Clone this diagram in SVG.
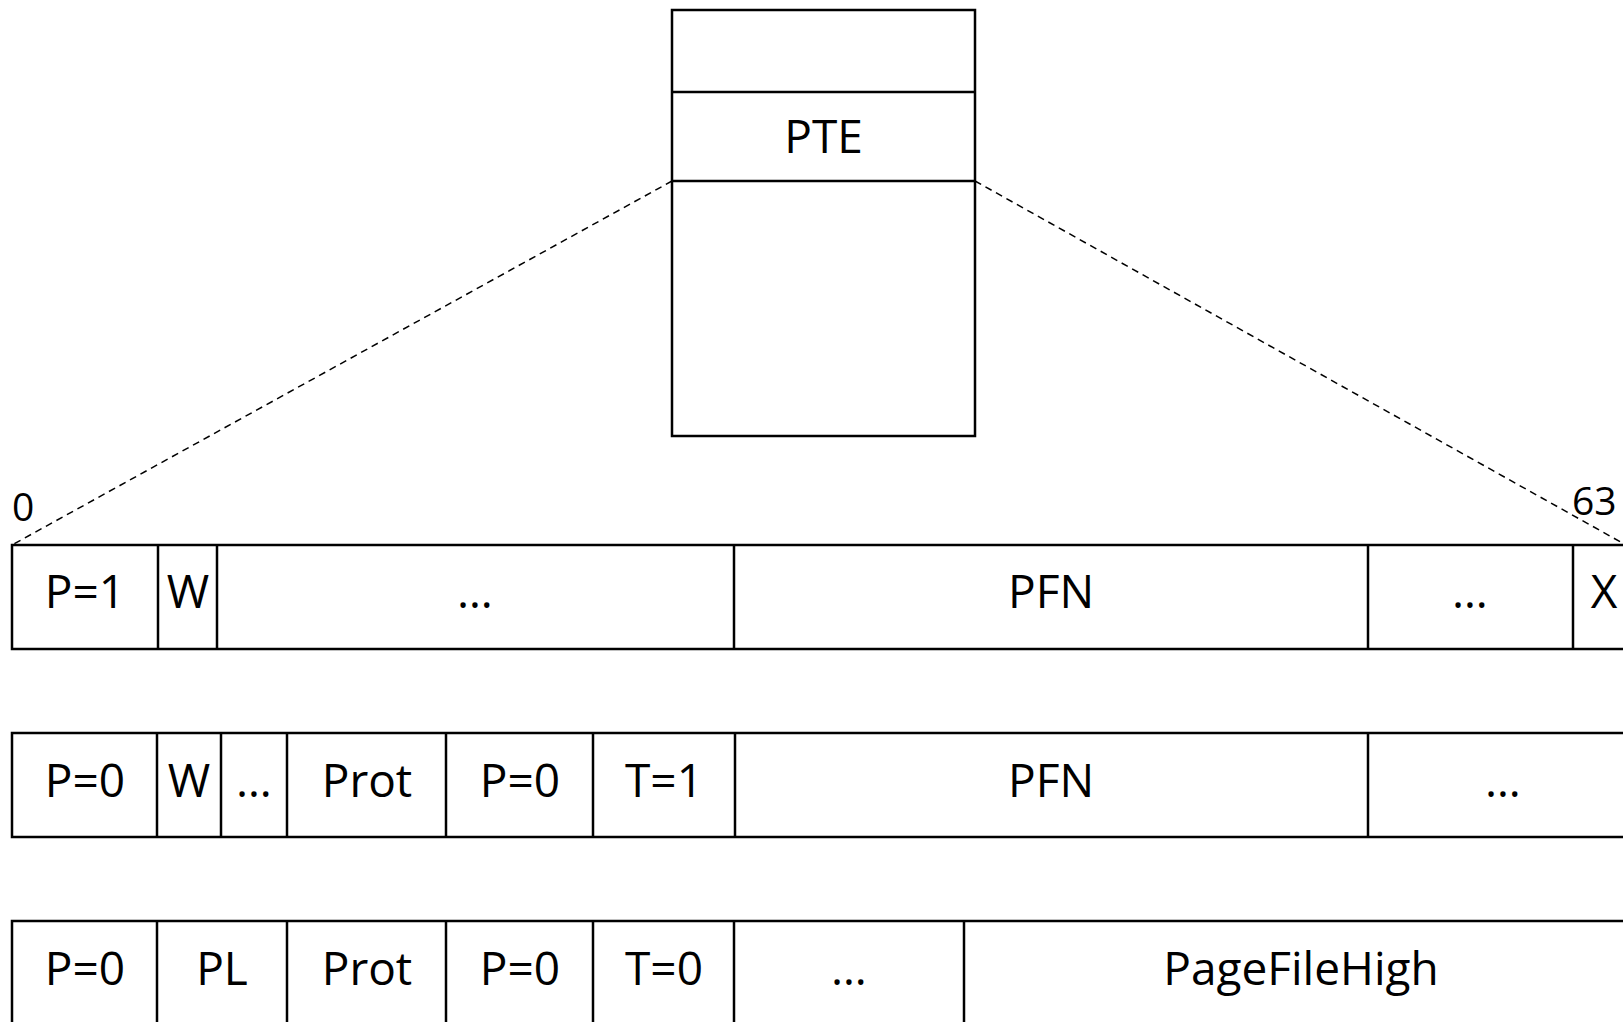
<svg xmlns="http://www.w3.org/2000/svg" width="1623" height="1022" viewBox="0 0 1623 1022">
<style>
.b{fill:none;stroke:#000;stroke-width:2.5}
.d{fill:none;stroke:#000;stroke-width:1.5;stroke-dasharray:7 5}
.t{font-family:"Open Sans","Noto Sans",sans-serif;font-size:46px;fill:#000;text-anchor:middle}
.n{font-family:"Open Sans","Noto Sans",sans-serif;font-size:39px;fill:#000}
</style>
<rect width="1623" height="1022" fill="#fff"/>
<g id="table">
<rect class="b" x="672" y="10" width="303" height="426"/>
<line class="b" x1="672" y1="92" x2="975" y2="92"/>
<line class="b" x1="672" y1="181" x2="975" y2="181"/>
<text class="t" x="823.5" y="153">PTE</text>
</g>
<g id="connectors">
<line class="d" x1="672" y1="181" x2="12" y2="545"/>
<line class="d" x1="975" y1="181" x2="1626" y2="545"/>
</g>
<g id="labels">
<text class="n" x="12" y="521">0</text>
<text class="n" x="1572" y="515">63</text>
</g>
<g id="row1">
<rect class="b" x="12" y="545" width="1630" height="104"/>
<line class="b" x1="158" y1="545" x2="158" y2="649"/>
<line class="b" x1="217" y1="545" x2="217" y2="649"/>
<line class="b" x1="734" y1="545" x2="734" y2="649"/>
<line class="b" x1="1368" y1="545" x2="1368" y2="649"/>
<line class="b" x1="1573" y1="545" x2="1573" y2="649"/>
<text class="t" x="85" y="608">P=1</text>
<text class="t" x="188" y="608">W</text>
<text class="t" x="475" y="608">…</text>
<text class="t" x="1051" y="608">PFN</text>
<text class="t" x="1470" y="608">…</text>
<text class="t" x="1604" y="608">X</text>
</g>
<g id="row2">
<rect class="b" x="12" y="733" width="1630" height="104"/>
<line class="b" x1="157" y1="733" x2="157" y2="837"/>
<line class="b" x1="221" y1="733" x2="221" y2="837"/>
<line class="b" x1="287" y1="733" x2="287" y2="837"/>
<line class="b" x1="446" y1="733" x2="446" y2="837"/>
<line class="b" x1="593" y1="733" x2="593" y2="837"/>
<line class="b" x1="735" y1="733" x2="735" y2="837"/>
<line class="b" x1="1368" y1="733" x2="1368" y2="837"/>
<text class="t" x="85" y="797">P=0</text>
<text class="t" x="189" y="797">W</text>
<text class="t" x="254" y="797">…</text>
<text class="t" x="367" y="797">Prot</text>
<text class="t" x="520" y="797">P=0</text>
<text class="t" x="664" y="797">T=1</text>
<text class="t" x="1051" y="797">PFN</text>
<text class="t" x="1503" y="797">…</text>
</g>
<g id="row3">
<rect class="b" x="12" y="921" width="1630" height="120"/>
<line class="b" x1="157" y1="921" x2="157" y2="1041"/>
<line class="b" x1="287" y1="921" x2="287" y2="1041"/>
<line class="b" x1="446" y1="921" x2="446" y2="1041"/>
<line class="b" x1="593" y1="921" x2="593" y2="1041"/>
<line class="b" x1="734" y1="921" x2="734" y2="1041"/>
<line class="b" x1="964" y1="921" x2="964" y2="1041"/>
<text class="t" x="85" y="985">P=0</text>
<text class="t" x="222" y="985">PL</text>
<text class="t" x="367" y="985">Prot</text>
<text class="t" x="520" y="985">P=0</text>
<text class="t" x="664" y="985">T=0</text>
<text class="t" x="849" y="985">…</text>
<text class="t" x="1301" y="985">PageFileHigh</text>
</g>
</svg>
